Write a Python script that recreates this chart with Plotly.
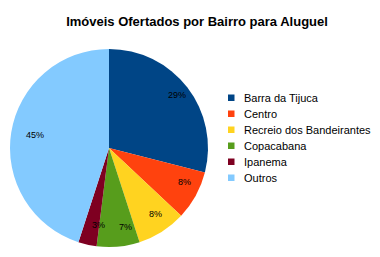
import math
import plotly.graph_objects as go

labels = ["Barra da Tijuca", "Centro", "Recreio dos Bandeirantes", "Copacabana", "Ipanema", "Outros"]
values = [29, 8, 8, 7, 3, 45]
colors = ["#004586", "#ff420e", "#ffd320", "#579d1c", "#7e0021", "#83caff"]

W, H = 380, 257
CX, CY, R = 109, 148, 99
fig = go.Figure(go.Pie(
    labels=labels, values=values, sort=False, direction="clockwise", rotation=0,
    marker=dict(colors=colors, line=dict(width=0)),
    textinfo="none", showlegend=False,
    domain=dict(x=[(CX - R) / W, (CX + R) / W], y=[1 - (CY + R) / H, 1 - (CY - R) / H]),
    hoverinfo="label+value",
))

annotations = []
total = sum(values)
cum = 0
for v in values:
    mid = (cum + v / 2) / total * 2 * math.pi
    cum += v
    r = 0.87 * R
    px = CX + r * math.sin(mid)
    py = CY - r * math.cos(mid)
    annotations.append(dict(text=f"{v}%", x=px / W, y=1 - py / H, xref="paper", yref="paper",
                            showarrow=False, font=dict(size=9, color="black", family="Liberation Sans")))

shapes = []
LX, LY0, DY = 228, 97.5, 16
for i, (lab, col) in enumerate(zip(labels, colors)):
    yc = LY0 + i * DY
    shapes.append(dict(type="rect", xref="paper", yref="paper",
                       x0=LX / W, x1=(LX + 6.5) / W, y0=1 - (yc + 3.5) / H, y1=1 - (yc - 3.0) / H,
                       fillcolor=col, line=dict(width=0)))
    annotations.append(dict(text=lab, x=(LX + 14) / W, y=1 - yc / H, xref="paper", yref="paper",
                            xanchor="left", yanchor="middle", showarrow=False,
                            font=dict(size=11, color="black", family="Liberation Sans")))

fig.update_layout(
    width=W, height=H, margin=dict(l=0, r=0, t=0, b=0),
    paper_bgcolor="white", plot_bgcolor="white",
    font=dict(family="Liberation Sans", color="black"),
    title=dict(text="<b>Imóveis Ofertados por Bairro para Aluguel</b>", x=197 / W, xanchor="center",
               y=1 - 21 / H, yanchor="middle", font=dict(size=13, family="Liberation Sans")),
    annotations=annotations, shapes=shapes, showlegend=False,
)
fig.write_html("out.html")
